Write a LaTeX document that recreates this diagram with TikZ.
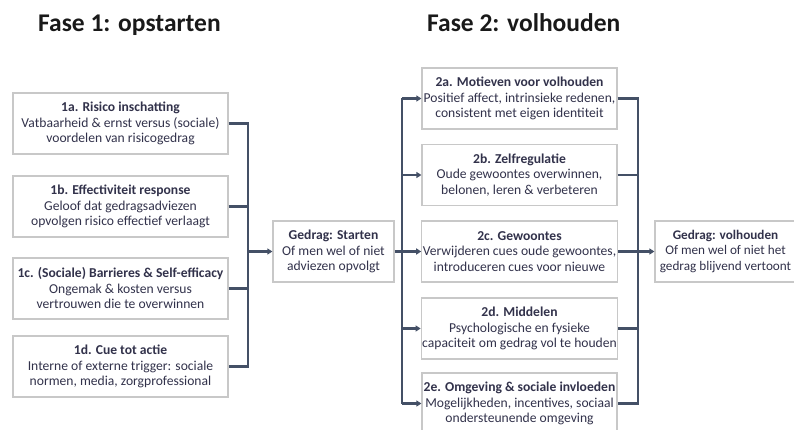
\documentclass[tikz,border=0pt]{standalone}
\usepackage{fontspec}
\setmainfont{Carlito}
\usetikzlibrary{arrows.meta}
\definecolor{txt}{RGB}{50,50,75}
\definecolor{connc}{RGB}{68,80,102}
\definecolor{boxline}{RGB}{200,200,200}
\definecolor{titlec}{RGB}{25,25,25}
\begin{document}
\begin{tikzpicture}[x=1pt,y=-1pt,
  box/.style={draw=boxline, line width=1.2pt, fill=white, align=center, text=txt,
    font=\fontsize{13.6}{15.5}\selectfont, inner sep=1pt, minimum height=61pt},
  conn/.style={draw=connc, line width=2.2pt},
  arr/.style={conn, -{Triangle[length=5pt,width=6pt]}},
  titlestyle/.style={anchor=base west, inner sep=0pt, text=titlec, font=\fontsize{25.5}{30}\selectfont\bfseries}]
\useasboundingbox (0,0) rectangle (794,430);
\clip (0,0) rectangle (794,430);

\node[titlestyle] (t1) at (38,32) {Fase 1: opstarten};
\node[titlestyle] (t2) at (427,32) {Fase 2: volhouden};

% Phase 1 boxes
\node[box, minimum width=215pt] (b1a) at (120.5,123.5) {\textbf{1a. Risico inschatting}\\Vatbaarheid \& ernst versus (sociale)\\voordelen van risicogedrag};
\node[box, minimum width=215pt] (b1b) at (120.5,206.5) {\textbf{1b. Effectiviteit response}\\Geloof dat gedragsadviezen\\opvolgen risico effectief verlaagt};
\node[box, minimum width=215pt] (b1c) at (120.5,288.5) {\textbf{1c. (Sociale) Barrieres \& Self-efficacy}\\Ongemak \& kosten versus\\vertrouwen die te overwinnen};
\node[box, minimum width=215pt] (b1d) at (120.5,366.5) {\textbf{1d. Cue tot actie}\\Interne of externe trigger: sociale\\normen, media, zorgprofessional};

\node[box, minimum width=121pt] (start) at (333.5,251.5) {\textbf{Gedrag: Starten}\\Of men wel of niet\\adviezen opvolgt};

% Phase 2 boxes
\node[box, minimum width=195pt] (b2a) at (519.5,98.5) {\textbf{2a. Motieven voor volhouden}\\Positief affect, intrinsieke redenen,\\consistent met eigen identiteit};
\node[box, minimum width=195pt] (b2b) at (519.5,175) {\textbf{2b. Zelfregulatie}\\Oude gewoontes overwinnen,\\belonen, leren \& verbeteren};
\node[box, minimum width=195pt] (b2c) at (519.5,251.5) {\textbf{2c. Gewoontes}\\Verwijderen cues oude gewoontes,\\introduceren cues voor nieuwe};
\node[box, minimum width=195pt] (b2d) at (519.5,328.5) {\textbf{2d. Middelen}\\Psychologische en fysieke\\capaciteit om gedrag vol te houden};
\node[box, minimum width=195pt] (b2e) at (519.5,403.5) {\textbf{2e. Omgeving \& sociale invloeden}\\Mogelijkheden, incentives, sociaal\\ondersteunende omgeving};

\node[box, minimum width=141pt, font=\fontsize{13.2}{15.5}\selectfont] (end) at (725.5,251.5) {\textbf{Gedrag: volhouden}\\Of men wel of niet het\\gedrag blijvend vertoont};

% junction coordinates
\coordinate (j1) at (248,0);
\coordinate (j2) at (402,0);
\coordinate (j3) at (638,0);

% Phase 1 connectors
\draw[conn] (b1a.east) -- (b1a.east -| j1) -- (b1d.east -| j1) -- (b1d.east);
\draw[conn] (b1b.east) -- (b1b.east -| j1);
\draw[conn] (b1c.east) -- (b1c.east -| j1);
\draw[arr] (start.west -| j1) -- (start.west);

% Phase 2 left connectors
\draw[conn] (start.east) -- (start.east -| j2);
\draw[conn] (b2a.west -| j2) -- (b2e.west -| j2);
\foreach \n in {b2a,b2b,b2c,b2d,b2e} {\draw[arr] (\n.west -| j2) -- (\n.west);}

% Phase 2 right connectors
\draw[conn] (b2a.east) -- (b2a.east -| j3) -- (b2e.east -| j3) -- (b2e.east);
\foreach \n in {b2b,b2c,b2d} {\draw[conn] (\n.east) -- (\n.east -| j3);}
\draw[arr] (end.west -| j3) -- (end.west);
\end{tikzpicture}
\end{document}
